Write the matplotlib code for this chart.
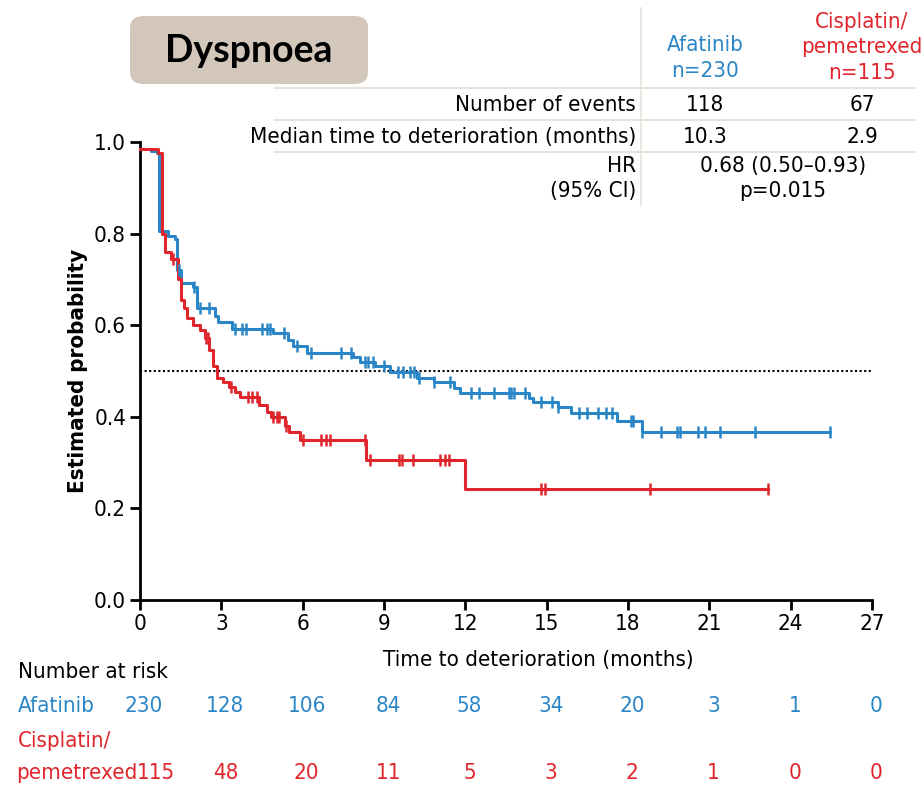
import numpy as np
import matplotlib
matplotlib.use("Agg")
import matplotlib.pyplot as plt
from matplotlib import font_manager
from matplotlib.patches import FancyBboxPatch
from matplotlib.transforms import blended_transform_factory

# pick a narrow sans if one is installed
_fonts = {(f.name, f.stretch) for f in font_manager.fontManager.ttflist}
if any(n == "Liberation Sans Narrow" for n, _ in _fonts):
    plt.rcParams["font.family"] = ["Liberation Sans Narrow", "DejaVu Sans"]
    FS = 17
elif ("DejaVu Sans", "condensed") in _fonts or ("DejaVu Sans", "semi-condensed") in _fonts:
    plt.rcParams["font.family"] = ["DejaVu Sans"]
    plt.rcParams["font.stretch"] = "condensed"
    FS = 16
else:
    plt.rcParams["font.family"] = ["Liberation Sans", "DejaVu Sans"]
    FS = 15

BLUE = "#2a86c6"
RED = "#e0262c"

# Kaplan-Meier steps: time (months) of each step and probability after it
afa_t = [0, 0.4, 0.63, 0.7, 1.03, 1.29, 1.37, 1.5, 1.95, 2.11, 2.77, 2.88, 3.38,
         4.91, 5.46, 5.65, 6.15, 7.87, 8.12, 8.67, 9.23, 10.2, 10.85, 11.6, 11.8,
         14.35, 14.5, 15.4, 15.9, 17.6, 18.5]
afa_p = [0.985, 0.98, 0.975, 0.805, 0.795, 0.788, 0.72, 0.692, 0.684, 0.637,
         0.619, 0.608, 0.591, 0.582, 0.568, 0.555, 0.539, 0.531, 0.519, 0.511,
         0.498, 0.484, 0.475, 0.462, 0.451, 0.44, 0.433, 0.422, 0.409, 0.39, 0.366]
afa_end = 25.45
afa_cens = [1.45, 2.0, 2.2, 2.55, 3.5, 3.75, 3.9, 4.5, 4.7, 4.8, 5.3, 5.8, 6.3,
            7.4, 7.8, 8.3, 8.42, 8.6, 9.0, 9.5, 9.7, 9.95, 10.1, 10.3, 10.85,
            11.45, 12.2, 12.5, 13.05, 13.6, 13.7, 13.8, 14.2, 14.8, 15.2, 15.4,
            16.2, 16.5, 16.9, 17.2, 17.4, 18.1, 18.2, 18.5, 19.2, 19.8, 19.9,
            20.6, 20.85, 21.4, 22.7, 25.45]

cis_t = [0, 0.65, 0.8, 0.92, 1.15, 1.4, 1.5, 1.62, 1.75, 1.95, 2.2, 2.4, 2.55,
         2.7, 2.85, 3.05, 3.3, 3.5, 3.7, 4.4, 4.7, 4.85, 5.35, 5.5, 5.9, 8.35, 12.0]
cis_p = [0.985, 0.975, 0.80, 0.76, 0.745, 0.70, 0.655, 0.637, 0.616, 0.60, 0.59,
         0.572, 0.545, 0.51, 0.485, 0.475, 0.465, 0.455, 0.443, 0.425, 0.41, 0.40,
         0.38, 0.367, 0.349, 0.306, 0.242]
cis_end = 23.15
cis_cens = [1.2, 2.45, 2.5, 3.35, 4.0, 4.13, 4.3, 4.9, 5.05, 5.14, 5.4, 6.0, 6.67,
            6.86, 7.0, 8.3, 8.5, 9.57, 9.67, 10.08, 11.07, 11.25, 11.4, 14.78,
            14.94, 18.8, 23.15]

xticks = [0, 3, 6, 9, 12, 15, 18, 21, 24, 27]
yticks = [0.0, 0.2, 0.4, 0.6, 0.8, 1.0]
afa_risk = [230, 128, 106, 84, 58, 34, 20, 3, 1, 0]
cis_risk = [115, 48, 20, 11, 5, 3, 2, 1, 0, 0]

W, H = 923, 785


def fx(x):
    return x / W


def fy(y):
    return 1 - y / H


def step_value(times, probs, t):
    i = np.searchsorted(times, t, side="right") - 1
    return np.asarray(probs)[i]


fig = plt.figure(figsize=(W / 100, H / 100), dpi=100)
ax = fig.add_axes([fx(140), fy(600), fx(872) - fx(140), fy(142) - fy(600)])

for t, p, end, cens, col in [(afa_t, afa_p, afa_end, afa_cens, BLUE),
                             (cis_t, cis_p, cis_end, cis_cens, RED)]:
    ax.step(t + [end], p + [p[-1]], where="post", color=col, lw=2.2,
            clip_on=False, zorder=3)
    ax.plot(cens, step_value(t, p, cens), ls="none", marker="|", ms=8,
            mew=1.8, color=col, clip_on=False, zorder=4)

ax.axhline(0.5, color="black", ls=(0, (1, 1.2)), lw=1.5, zorder=2)

ax.set_xlim(0, 27)
ax.set_ylim(0, 1.0)
ax.set_xticks(xticks)
ax.set_yticks(yticks)
ax.set_yticklabels([f"{v:.1f}" for v in yticks])
ax.tick_params(direction="out", length=7, width=2, labelsize=FS, pad=3)
for s in ["top", "right"]:
    ax.spines[s].set_visible(False)
for s in ["left", "bottom"]:
    ax.spines[s].set_linewidth(2)

ax.set_ylabel("Estimated probability", fontsize=FS, fontweight="bold", labelpad=4)
fig.text(fx(538), fy(660), "Time to deterioration (months)", fontsize=FS,
         ha="center", va="center")

# Number at risk
fig.text(fx(18), fy(672), "Number at risk", fontsize=FS, ha="left", va="center")
fig.text(fx(18), fy(706), "Afatinib", fontsize=FS, ha="left", va="center", color=BLUE)
fig.text(fx(18), fy(741), "Cisplatin/", fontsize=FS, ha="left", va="center", color=RED)
fig.text(fx(16), fy(773), "pemetrexed", fontsize=FS, ha="left", va="center", color=RED)
tr = blended_transform_factory(ax.transData, fig.transFigure)
for i, (x, a, c) in enumerate(zip(xticks, afa_risk, cis_risk)):
    ax.text(x + 0.15, fy(706), str(a), transform=tr, fontsize=FS, ha="center",
            va="center", color=BLUE, clip_on=False)
    # first red count sits right after the wrapped arm name
    xc = x + 0.6 if i == 0 else x + 0.15
    ax.text(xc, fy(773), str(c), transform=tr, fontsize=FS, ha="center",
            va="center", color=RED, clip_on=False)

# Title box
box = FancyBboxPatch((fx(130), fy(84)), fx(368) - fx(130), fy(16) - fy(84),
                     boxstyle="round,pad=0,rounding_size=0.015",
                     transform=fig.transFigure, facecolor="#d3c6ba",
                     edgecolor="none")
fig.patches.append(box)
fig.text(fx(249), fy(51), "Dyspnoea", fontsize=27, fontweight="bold",
         family=["Lato", "DejaVu Sans"], fontstretch="normal",
         ha="center", va="center")

# Summary table
grid = "#e6e4da"
for y in [88, 120, 152]:
    fig.add_artist(plt.Line2D([fx(275), fx(915)], [fy(y), fy(y)], color=grid,
                              lw=1.5, transform=fig.transFigure))
fig.add_artist(plt.Line2D([fx(641), fx(641)], [fy(8), fy(206)], color=grid,
                          lw=1.2, transform=fig.transFigure))

fig.text(fx(705), fy(45), "Afatinib", fontsize=FS, ha="center", va="center", color=BLUE)
fig.text(fx(705), fy(71), "n=230", fontsize=FS, ha="center", va="center", color=BLUE)
fig.text(fx(862), fy(22), "Cisplatin/", fontsize=FS, ha="center", va="center", color=RED)
fig.text(fx(862), fy(47), "pemetrexed", fontsize=FS, ha="center", va="center", color=RED)
fig.text(fx(862), fy(73), "n=115", fontsize=FS, ha="center", va="center", color=RED)

rows = [("Number of events", 105, "118", "67"),
        ("Median time to deterioration (months)", 137, "10.3", "2.9")]
for label, y, a, c in rows:
    fig.text(fx(636), fy(y), label, fontsize=FS, ha="right", va="center")
    fig.text(fx(705), fy(y), a, fontsize=FS, ha="center", va="center")
    fig.text(fx(862), fy(y), c, fontsize=FS, ha="center", va="center")
fig.text(fx(636), fy(166), "HR", fontsize=FS, ha="right", va="center")
fig.text(fx(636), fy(191), "(95% CI)", fontsize=FS, ha="right", va="center")
fig.text(fx(783), fy(166), "0.68 (0.50\u20130.93)", fontsize=FS, ha="center", va="center")
fig.text(fx(783), fy(191), "p=0.015", fontsize=FS, ha="center", va="center")

fig.savefig("out.png", dpi=100)
